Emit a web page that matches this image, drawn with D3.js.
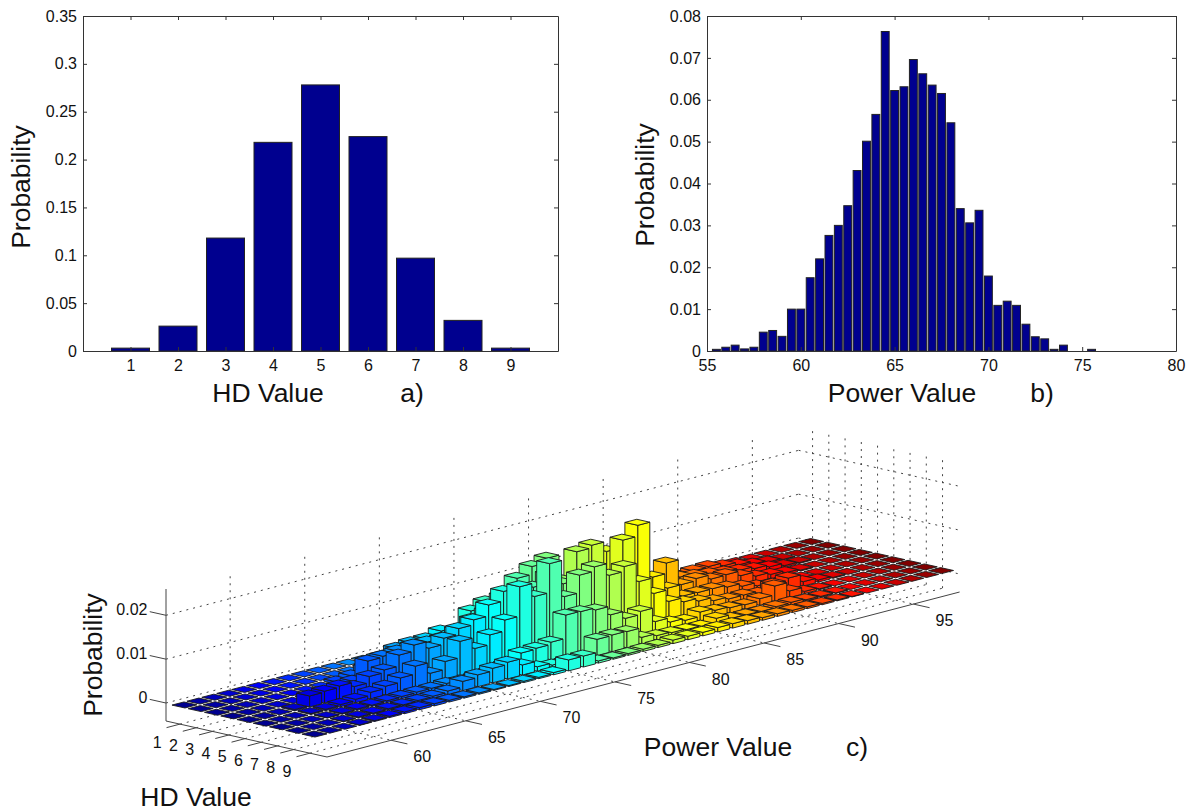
<!DOCTYPE html>
<html>
<head>
<meta charset="utf-8">
<script src="https://cdn.jsdelivr.net/npm/d3@7"></script>
<style>
  body { margin: 0; background: #fff; }
  text { font-family: "Liberation Sans", Arial, sans-serif; fill: #111; }
  .tick text { font-size: 16px; }
  .lab { font-size: 26.5px; }
</style>
</head>
<body>
<svg id="fig" width="1198" height="812"></svg>
<script>
// panel a
const hdValues = [1, 2, 3, 4, 5, 6, 7, 8, 9];
const hdProb = [0.003, 0.026, 0.118, 0.218, 0.278, 0.224, 0.097, 0.032, 0.003];

// panel b, bins every 0.5 from 55.5
const powerStart = 55.5;
const powerProb = [0.0004, 0.0009, 0.0014, 0.0005, 0.0009, 0.0045, 0.0049, 0.0035, 0.01, 0.01,
  0.0175, 0.022, 0.0276, 0.03, 0.0347, 0.0431, 0.0501, 0.0565, 0.0763, 0.0622,
  0.0631, 0.0696, 0.0662, 0.0635, 0.0615, 0.0545, 0.034, 0.0306, 0.0336, 0.0179,
  0.0109, 0.0119, 0.0109, 0.0064, 0.0034, 0.0029, 0.0004, 0.0014, 0, 0, 0.0004];

// panel c, per mille, one list per HD value, columns are power 56..98
const hd1 = [0,0,0,0,0,0,0,0,0,0, 0,0,0,0,0,0,0,0,0,0, 0,0,0,0,.1,.1,.1,.1,.1,.1, .2,.2,.5,.6,.5,.3,.2,.1,0,0, 0,0,0];
const hd2 = [0,0,0,0,0,0,0,0,0,0, 0,0,0,0,0,0,0,0,0,0, 0,0,.2,.2,.3,.3,.4,.4,.6,1, 1.5,2,2.5,2.8,2.9,2.2,1.5,.8,.4,.1, 0,0,0];
const hd3 = [0,0,0,0,0,0,0,0,.5,1, 2,3,4.6,5,5,5.9,5,8.7,9.9,8, 9,9,8,7,3,3,4,4,5,4.5, 5,4,3.5,3,2.5,2,1.5,1,.4,.2, 0,0,0];
const hd4 = [0,0,0,0,0,.1,.2,.5,1.5,5.2, 5.4,5.7,6,6,6,7,8.5,9.5,12,15.2, 17,18,12,17.7,18.3,16,13,8,6.5,9.8, 4,4.5,3.5,3.6,2.5,1.5,1,.5,.2,0, 0,0,0];
const hd5 = [0,0,0,.3,2.5,2.7,3,2,3.4,4, 6.5,7.9,6.3,7.7,9,10.1,12.6,14.8,13,14, 16,13,12,12,11,19.4,21.9,9.2,5.8,3.1, 3,3,2.5,1.8,1,.5,.3,.1,0,0, 0,0,0];
const hd6 = [0,0,0,.2,.3,.5,.8,1.5,2,3, 4.8,2.3,4.1,7.8,5.3,7.5,10,16.7,13.6,20.2, 11.8,15.8,16.8,14,15.1,10.8,7.2,4.5,3.5,2.8, 2,1.5,1.5,1,2.2,2.7,1,.5,.2,0, 0,0,0];
const hd7 = [0,0,0,.1,.2,.3,.3,.4,.5,.6, .6,.8,.5,.5,.8,1.5,3.3,3.5,4,9.3, 9.2,8.7,6.7,5,5.7,2.5,1.5,1,2,1.5, 1.2,1,1.5,3.5,1.5,.5,.2,0,0,0, 0,0,0];
const hd8 = [0,0,0,.1,.2,.2,.3,.3,.4,.5, .8,2.1,2.7,3.3,3.8,2.3,1,.5,.4,.3, 3.7,3.8,3.7,1.5,1,.8,.6,.5,1.4,.5, .4,.3,.5,.6,.3,.2,.1,0,0,0, 0,0,0];
const hd9 = [0,0,0,.1,.2,.3,.4,.5,.5,.4, .3,.3,.2,.2,.3,.3,.5,2.5,2.5,.5, .3,.4,.5,.5,.8,.8,.8,1,1,.8, .6,.6,.5,.4,.3,.2,.1,0,0,0, 0,0,0];
const joint = [hd1, hd2, hd3, hd4, hd5, hd6, hd7, hd8, hd9];
const jointPowers = d3.range(56, 99);

const svg = d3.select("#fig");
const navy = "#00008f";

function label(txt, x, y, rot) {
  svg.append("text").attr("class", "lab")
    .attr("text-anchor", "middle")
    .attr("transform", `translate(${x},${y})` + (rot ? " rotate(-90)" : ""))
    .text(txt);
}

// 2d panel with matlab style box, ticks pointing in on all four sides
function box(x, y, xticks, yticks) {
  const g = svg.append("g");
  const yFmt = d => d === 0 ? "0" : String(d);
  const [x0, x1] = x.range(), [y0, y1] = y.range();
  g.append("g").attr("transform", `translate(0,${y0})`)
    .call(d3.axisBottom(x).tickValues(xticks).tickSizeInner(-4).tickSizeOuter(0).tickPadding(9).tickFormat(d3.format("d")));
  g.append("g").attr("transform", `translate(${x0},0)`)
    .call(d3.axisLeft(y).tickValues(yticks).tickSizeInner(-4).tickSizeOuter(0).tickPadding(6).tickFormat(yFmt));
  g.append("g").attr("transform", `translate(0,${y1})`)
    .call(d3.axisTop(x).tickValues(xticks).tickSizeInner(-4).tickSizeOuter(0).tickFormat(""));
  g.append("g").attr("transform", `translate(${x1},0)`)
    .call(d3.axisRight(y).tickValues(yticks).tickSizeInner(-4).tickSizeOuter(0).tickFormat(""));
  g.selectAll(".domain, .tick line").attr("stroke", "#333");
}

function bars(x, y, data, w) {
  svg.append("g").selectAll("rect")
    .data(data)
    .join("rect")
      .attr("x", d => x(d[0] - w / 2))
      .attr("width", d => x(d[0] + w / 2) - x(d[0] - w / 2))
      .attr("y", d => y(d[1]))
      .attr("height", d => y(0) - y(d[1]))
      .attr("fill", navy)
      .attr("stroke", "#222")
      .attr("stroke-width", 1);
}

// a)
const xa = d3.scaleLinear().domain([0, 10]).range([83, 558]);
const ya = d3.scaleLinear().domain([0, 0.35]).range([351, 16]);
bars(xa, ya, hdValues.map((h, i) => [h, hdProb[i]]), 0.8);
box(xa, ya, hdValues, [0, 0.05, 0.1, 0.15, 0.2, 0.25, 0.3, 0.35]);
label("Probability", 30, 187, true);
label("HD Value", 268, 402);
label("a)", 412, 402);

// b)
const xb = d3.scaleLinear().domain([55, 80]).range([707, 1176]);
const yb = d3.scaleLinear().domain([0, 0.08]).range([351, 16]);
bars(xb, yb, powerProb.map((v, i) => [powerStart + i * 0.5, v]), 0.42);
box(xb, yb, [55, 60, 65, 70, 75, 80], [0, 0.01, 0.02, 0.03, 0.04, 0.05, 0.06, 0.07, 0.08]);
label("Probability", 654, 185, true);
label("Power Value", 902, 402);
label("b)", 1042, 402);

// c) bar3 view, orthographic, so each data axis is just a screen vector
const pX = d3.scaleLinear().domain([55.7, 98.1]).range([0, 632.6]);
const pY = d3.scaleLinear().domain([55.7, 98.1]).range([0, -165]);
const hX = d3.scaleLinear().domain([0.14, 10.05]).range([0, 161]);
const hY = d3.scaleLinear().domain([0.14, 10.05]).range([0, 36]);
const zY = d3.scaleLinear().domain([-4.1, 26]).range([0, -132]);
const pMin = 55.7, pMax = 98.1, hMin = 0.14, hMax = 10.05, zMin = -4.1, zMax = 26;
const originX = 166, originY = 721;

function pt(p, h, z) {
  return [originX + pX(p) + hX(h), originY + pY(p) + hY(h) + zY(z)];
}

const powerTicks = [60, 65, 70, 75, 80, 85, 90, 95];
const zTicks = [0, 10, 20];
const zTickText = ["0", "0.01", "0.02"];

const c = svg.append("g");
const seg = (a, b, dotted, col) => c.append("line")
  .attr("x1", a[0]).attr("y1", a[1]).attr("x2", b[0]).attr("y2", b[1])
  .attr("stroke", col || "#444").attr("stroke-width", 1)
  .attr("stroke-dasharray", dotted ? "2,5" : null);

// grid on floor and the two back walls
powerTicks.forEach(p => {
  seg(pt(p, hMin, zMin), pt(p, hMax, zMin), true);
  seg(pt(p, hMin, zMin), pt(p, hMin, zMax), true);
});
hdValues.forEach(h => {
  seg(pt(pMin, h, zMin), pt(pMax, h, zMin), true);
  seg(pt(pMax, h, zMin), pt(pMax, h, zMax), true);
});
zTicks.forEach(z => {
  seg(pt(pMin, hMin, z), pt(pMax, hMin, z), true);
  seg(pt(pMax, hMin, z), pt(pMax, hMax, z), true);
});

// solid axes and outward ticks
seg(pt(pMin, hMin, zMin), pt(pMin, hMin, zMax));
seg(pt(pMin, hMin, zMin), pt(pMin, hMax, zMin));
seg(pt(pMin, hMax, zMin), pt(pMax, hMax, zMin));
powerTicks.forEach(p => seg(pt(p, hMax, zMin), pt(p, hMax + 1, zMin)));
hdValues.forEach(h => seg(pt(pMin, h, zMin), pt(pMin - 0.9, h, zMin)));
zTicks.forEach(z => seg(pt(pMin, hMin, z), pt(pMin, hMin - 1, z)));

const jet = d3.scaleLinear()
  .domain([0, 1 / 8, 3 / 8, 5 / 8, 7 / 8, 1])
  .range(["#00008f", "#0000ff", "#00ffff", "#ffff00", "#ff0000", "#800000"]);
const powerColor = d3.scaleLinear().domain([56, 98]).range([0, 1]);

// painter's order: far rows first, inside a row high power first
const cells = [];
hdValues.forEach((h, i) => {
  jointPowers.slice().reverse().forEach(p => {
    cells.push({ p: p, h: h, v: joint[i][p - 56] });
  });
});

const half = 0.4;
const poly = pts => pts.map(q => q.join(",")).join(" ");
const cellG = c.append("g").selectAll("g").data(cells).join("g")
  .attr("fill", d => jet(powerColor(d.p)))
  .attr("stroke", "#1a1a1a")
  .attr("stroke-width", 0.9)
  .attr("stroke-linejoin", "round");

// face towards low power
cellG.filter(d => d.v > 0).append("polygon").attr("points", d => poly([
  pt(d.p - half, d.h - half, d.v), pt(d.p - half, d.h + half, d.v),
  pt(d.p - half, d.h + half, 0), pt(d.p - half, d.h - half, 0)]));
// face towards high HD
cellG.filter(d => d.v > 0).append("polygon").attr("points", d => poly([
  pt(d.p - half, d.h + half, d.v), pt(d.p + half, d.h + half, d.v),
  pt(d.p + half, d.h + half, 0), pt(d.p - half, d.h + half, 0)]));
// top
cellG.append("polygon").attr("points", d => poly([
  pt(d.p - half, d.h - half, d.v), pt(d.p + half, d.h - half, d.v),
  pt(d.p + half, d.h + half, d.v), pt(d.p - half, d.h + half, d.v)]));

// tick labels for the 3d axes
const small = (txt, q, anchor) => c.append("text")
  .attr("x", q[0]).attr("y", q[1]).attr("text-anchor", anchor || "middle")
  .attr("dominant-baseline", "central").style("font-size", "16px").text(txt);

zTicks.forEach((z, i) => {
  const q = pt(pMin, hMin - 1.2, z);
  small(zTickText[i], [q[0] + 1, q[1] - 1], "end");
});
hdValues.forEach(h => {
  const q = pt(pMin - 1.6, h, zMin);
  small(h, [q[0] + 1, q[1] + 12]);
});
powerTicks.forEach(p => {
  const q = pt(p, hMax + 2.1, zMin);
  small(p, [q[0] - 3, q[1] + 9]);
});

label("Probability", 102, 655, true);
label("HD Value", 196, 806);
label("Power Value", 718, 756);
label("c)", 857, 756);
</script>
</body>
</html>
